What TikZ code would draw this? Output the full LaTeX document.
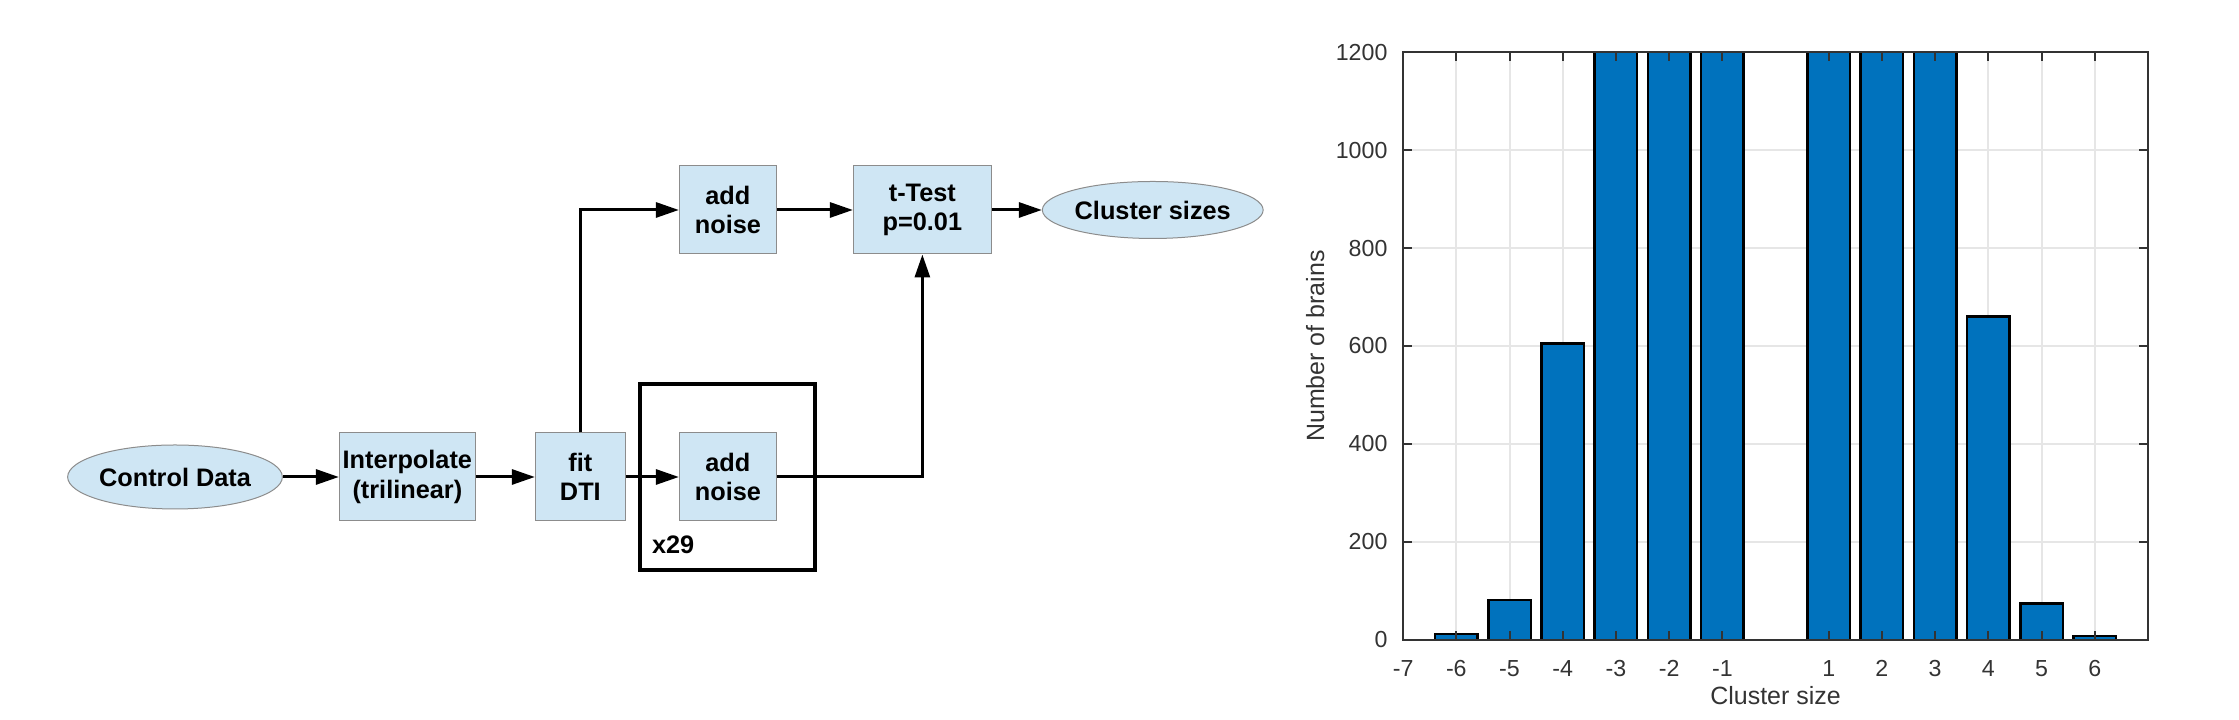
\documentclass[tikz,border=0pt]{standalone}
\usepackage{fontspec}
\setmainfont{Liberation Sans}
\usepackage{tikz}
\usetikzlibrary{positioning,arrows.meta,shapes.geometric,fit}

\definecolor{boxblue}{HTML}{CFE6F4}
\definecolor{boxedge}{HTML}{8C8C8C}
\definecolor{barblue}{HTML}{0072BD}
\definecolor{gridgray}{HTML}{E6E6E6}
\definecolor{axisgray}{HTML}{333333}

\begin{document}
\begin{tikzpicture}[
      x=1mm, y=1mm,
      node distance=5.6mm and 5.6mm,
      every node/.style={
        font=\fontsize{7.2}{8.3}\selectfont\bfseries,
        align=center
      },
      block/.style={draw=boxedge, line width=0.1mm, fill=boxblue,
        rectangle, minimum height=8.8mm, inner sep=0pt},
      term/.style={draw=boxedge, line width=0.1mm, fill=boxblue,
        ellipse, inner sep=0pt},
      flow/.style={line width=0.3mm},
      gridline/.style={draw=gridgray, line width=0.2mm},
      axisline/.style={draw=axisgray, line width=0.2mm},
      bar/.style={fill=barblue, draw=black, line width=0.25mm},
      ticklabel/.style={font=\fontsize{6.6}{7.5}\selectfont, text=axisgray, inner sep=0pt},
      axislabel/.style={font=\fontsize{7.1}{8}\selectfont, text=axisgray, inner sep=0pt},
      >={Triangle[length=2.3mm,width=1.5mm]} % arrow tip
    ]
    \useasboundingbox (0,0) rectangle (223.9,72);

    % Lower row
    \node (cd) [term, minimum width=21.1mm, minimum height=6.4mm] at (17.5,24.3) {Control Data};
    \node (interp) [block, minimum width=13.6mm, right=5.6mm of cd] {Interpolate\\(trilinear)};
    \node (dti) [block, minimum width=9mm, right=5.9mm of interp] {fit\\DTI};
    \node (noise2) [block, minimum width=9.7mm, right=5.3mm of dti] {add\\noise};

    % Upper row
    \node (noise1) [block, minimum width=9.7mm, above=17.8mm of noise2] {add\\noise};
    \node (ttest) [block, minimum width=13.8mm, right=7.6mm of noise1] {t-Test\\p=0.01};
    \node (cs) [term, minimum width=21.6mm, minimum height=5.7mm, right=5mm of ttest] {Cluster sizes};

    % Repetition frame
    \node (loop) [draw, line width=0.4mm, fit=(noise2), inner xsep=3.85mm, inner ysep=4.85mm] {};
    \node (reps) [anchor=base west, inner sep=0pt] at ([shift={(1.3mm,1.8mm)}]loop.south west) {x29};

    % Arrows
    \draw[flow,->] (cd) -- (interp);
    \draw[flow,->] (interp) -- (dti);
    \draw[flow,->] (dti) -- (noise2);
    \draw[flow,->] (dti) |- (noise1);
    \draw[flow,->] (noise1) -- (ttest);
    \draw[flow,->] (noise2) -| (ttest);
    \draw[flow,->] (ttest) -- (cs);

    % Histogram of cluster sizes
    \begin{scope}[shift={(177.55mm,8mm)}, x=5.32mm, y=0.049mm]
      \foreach \k in {-6,...,-1,1,2,...,6}
        \draw[gridline] (\k,0) -- (\k,1200);
      \foreach \v in {200,400,...,1000}
        \draw[gridline] (-7,\v) -- (7,\v);
      \begin{scope}
        \clip (-7,0) rectangle (7,1200);
        \foreach \k/\v in {-6/12,-5/82,-4/605,-3/1500,-2/1500,-1/1500,
                           1/1500,2/1500,3/1500,4/660,5/74,6/8}
          \draw[bar] (\k-0.4,0) rectangle (\k+0.4,\v);
      \end{scope}
      \foreach \k in {-7,...,-1,1,2,...,6} {
        \draw[axisline] (\k,0) -- ++(0pt,0.9mm);
        \draw[axisline] (\k,1200) -- ++(0pt,-0.9mm);
        \node (xt\k) [ticklabel, anchor=north] at ([yshift=-2mm]\k,0) {\k};
      }
      \foreach \v in {0,200,...,1200} {
        \draw[axisline] (-7,\v) -- ++(0.9mm,0pt);
        \draw[axisline] (7,\v) -- ++(-0.9mm,0pt);
        \node (yt\v) [ticklabel, anchor=east] at ([xshift=-1.5mm]-7,\v) {\v};
      }
      \draw[axisline] (-7,0) rectangle (7,1200);
      \node (xlab) [axislabel] at ([yshift=-5.6mm]0,0) {Cluster size};
      \node (ylab) [axislabel, rotate=90] at ([xshift=-8.8mm]-7,600) {Number of brains};
    \end{scope}
  \end{tikzpicture}
\end{document}
